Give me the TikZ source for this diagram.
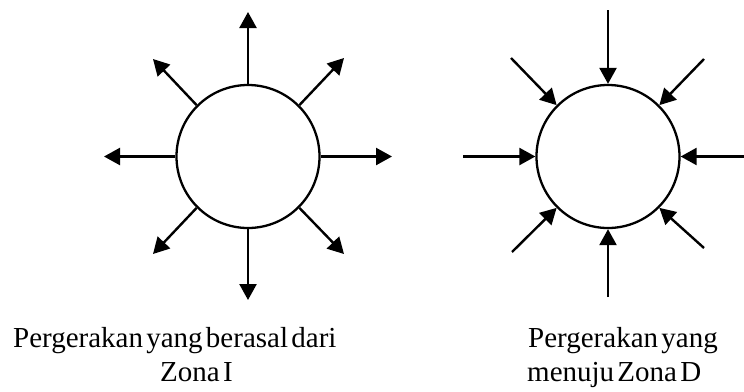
\documentclass[tikz,border=0pt]{standalone}
\usepackage{fontspec}
\setmainfont[WordSpace=0.45]{Liberation Serif}
\usetikzlibrary{arrows.meta}
\begin{document}
\begin{tikzpicture}[x=1pt,y=-1pt,
  zone/.style={circle, draw, line width=2.3pt, minimum size=143pt, inner sep=0pt},
  arr/.style={line width=2.4pt, -{Triangle[length=16pt,width=17pt]}},
  capt/.style={font=\fontsize{29}{30}\selectfont, inner sep=0pt, anchor=base west}]
\useasboundingbox (0,0) rectangle (744,391);
% left circle: outgoing
\node[zone] (L) at (248,156.5) {};
\coordinate (Ln) at (248,12);
\coordinate (Ls) at (248,300);
\coordinate (Lw) at (104,156.5);
\coordinate (Le) at (392,156.5);
\coordinate (Lnw) at (153,59);
\coordinate (Lne) at (344,58);
\coordinate (Lsw) at (153,254);
\coordinate (Lse) at (344,254);
\draw[arr] (L.north) -- (Ln);
\draw[arr] (L.south) -- (Ls);
\draw[arr] (L.west) -- (Lw);
\draw[arr] (L.east) -- (Le);
\draw[arr] (L.135) -- (Lnw);
\draw[arr] (L.45) -- (Lne);
\draw[arr] (L.225) -- (Lsw);
\draw[arr] (L.-45) -- (Lse);
% right circle: incoming
\node[zone] (R) at (608,156.5) {};
\coordinate (Rn) at (608,10);
\coordinate (Rs) at (608,297);
\coordinate (Rw) at (463,156.5);
\coordinate (Re) at (744,156.5);
\coordinate (Rnw) at (511,58);
\coordinate (Rne) at (704,59);
\coordinate (Rsw) at (512,252);
\coordinate (Rse) at (704,248);
\draw[arr] (Rn) -- (R.north);
\draw[arr] (Rs) -- (R.south);
\draw[arr] (Rw) -- (R.west);
\draw[arr] (Re) -- (R.east);
\draw[arr] (Rnw) -- (R.135);
\draw[arr] (Rne) -- (R.45);
\draw[arr] (Rsw) -- (R.225);
\draw[arr] (Rse) -- (R.-45);
% captions
\node[capt] (lc1) at (13,347) {Pergerakan yang berasal dari};
\node[capt] (lc2) at (160,381) {Zona I};
\node[capt] (rc1) at (528,347) {Pergerakan yang};
\node[capt] (rc2) at (527,381) {menuju Zona D};
\end{tikzpicture}
\end{document}
